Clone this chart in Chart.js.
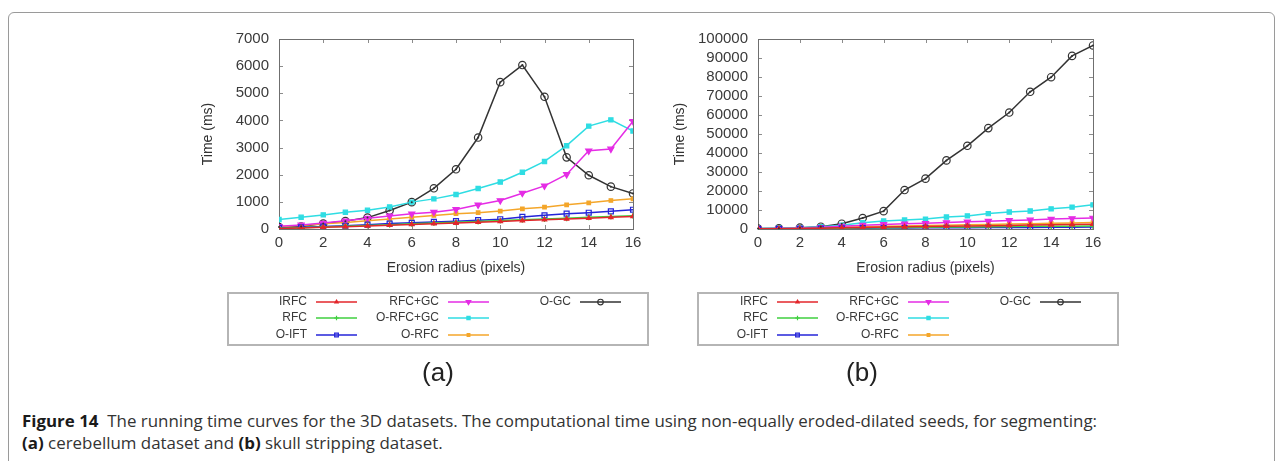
<!DOCTYPE html>
<html lang="en">
<head>
    <meta charset="UTF-8">
    <title>Running time curves for the 3D datasets</title>
    <script src="https://cdn.jsdelivr.net/npm/chart.js"></script>
    <style>
        body {
            margin: 0;
            padding: 0;
            background: #ffffff;
            width: 1282px;
            height: 461px;
            overflow: hidden;
            position: relative;
            font-family: "Liberation Sans", Arial, sans-serif;
        }

        /* rounded figure frame, open at the bottom */
        .frame {
            position: absolute;
            left: 8px;
            top: 12px;
            width: 1265px;
            height: 480px;
            border: 1px solid #9a9a9a;
            border-radius: 6px;
        }

        .panel {
            position: absolute;
            top: 20px;
            height: 340px;
        }

        #panelA { left: 190px; width: 470px; }
        #panelB { left: 660px; width: 480px; }

        .sub {
            position: absolute;
            top: 357px;
            width: 60px;
            margin-left: -30px;
            text-align: center;
            font-size: 26px;
            color: #222;
        }

        .caption {
            position: absolute;
            left: 22px;
            top: 410px;
            font-family: "Open Sans", "Noto Sans", sans-serif;
            font-size: 16px;
            line-height: 22px;
            color: #333;
            white-space: nowrap;
            transform-origin: 0 0;
        }

        .caption b { color: #1a1a1a; }
    </style>
</head>
<body>

    <div class="frame"></div>

    <div class="panel" id="panelA"><canvas id="chartA" width="470" height="340"></canvas></div>
    <div class="panel" id="panelB"><canvas id="chartB" width="480" height="340"></canvas></div>

    <div class="sub" style="left: 438px;">(a)</div>
    <div class="sub" style="left: 862px;">(b)</div>

    <div class="caption" id="caption">
        <span id="capLine"><b>Figure 14</b>&nbsp; The running time curves for the 3D datasets. The computational time using non-equally eroded-dilated seeds, for segmenting:</span><br>
        <b>(a)</b> cerebellum dataset and <b>(b)</b> skull stripping dataset.
    </div>

    <script>
        // erosion radius (pixels)
        const radius = [0, 1, 2, 3, 4, 5, 6, 7, 8, 9, 10, 11, 12, 13, 14, 15, 16];

        const methods = ['IRFC', 'RFC', 'O-IFT', 'RFC+GC', 'O-RFC+GC', 'O-RFC', 'O-GC'];

        // (a) cerebellum dataset, time in ms
        const cerIRFC   = [20, 40, 60, 85, 110, 140, 165, 195, 220, 250, 280, 310, 340, 370, 400, 430, 460];
        const cerRFC    = [30, 50, 70, 100, 130, 160, 190, 220, 250, 280, 310, 340, 370, 400, 430, 460, 490];
        const cerOIFT   = [40, 60, 90, 120, 160, 200, 230, 260, 290, 325, 360, 445, 505, 565, 600, 650, 710];
        const cerRFCGC  = [100, 150, 220, 300, 400, 480, 560, 620, 720, 890, 1050, 1320, 1590, 2010, 2880, 2950, 3970];
        const cerORFCGC = [350, 430, 520, 615, 690, 810, 990, 1110, 1270, 1490, 1730, 2090, 2490, 3070, 3790, 4020, 3610];
        const cerORFC   = [80, 130, 190, 240, 300, 370, 430, 500, 565, 600, 660, 745, 805, 890, 965, 1050, 1110];
        const cerOGC    = [70, 90, 200, 290, 420, 680, 990, 1500, 2200, 3370, 5410, 6040, 4870, 2640, 1980, 1560, 1310];

        // (b) skull stripping dataset, time in ms
        const skIRFC   = [80, 150, 250, 400, 600, 800, 1000, 1150, 1300, 1450, 1600, 1750, 1900, 2050, 2200, 2350, 2500];
        const skRFC    = [60, 120, 200, 300, 450, 600, 700, 800, 900, 1000, 1100, 1200, 1300, 1400, 1450, 1500, 1550];
        const skOIFT   = [50, 100, 150, 250, 350, 450, 500, 550, 600, 650, 700, 750, 800, 850, 900, 950, 1000];
        const skRFCGC  = [150, 300, 500, 900, 1500, 2000, 2400, 2700, 3000, 3400, 3800, 4100, 4500, 4800, 5200, 5500, 5800];
        const skORFCGC = [200, 400, 700, 1200, 2000, 3300, 4200, 4700, 5200, 6300, 6900, 8100, 8900, 9500, 10600, 11500, 12700];
        const skORFC   = [100, 200, 350, 600, 900, 1200, 1400, 1600, 1800, 2000, 2200, 2400, 2600, 2800, 3000, 3200, 3400];
        const skOGC    = [300, 400, 700, 1200, 2800, 5800, 9400, 20500, 26500, 36100, 43800, 53100, 61300, 72200, 79900, 91100, 96600];

        // line colour and marker for each method (gnuplot look)
        const styles = [
            { color: '#e3262b', point: 'triangle', radius: 2.5, fill: true },
            { color: '#3fcf3f', point: 'cross', radius: 3, fill: false },
            { color: '#2424d8', point: 'rect', radius: 3.5, fill: false },
            { color: '#e52ce5', point: 'triangle', radius: 3.5, fill: true, rotation: 180 },
            { color: '#2fdde3', point: 'rect', radius: 3, fill: true },
            { color: '#f4a62a', point: 'rect', radius: 2.5, fill: true },
            { color: '#333333', point: 'circle', radius: 3.7, fill: false }
        ];

        const tickFont = { family: "'Liberation Sans', Arial, sans-serif", size: 15 };
        const titleFont = { family: "'Liberation Sans', Arial, sans-serif", size: 14 };

        // box round the plot with small inward ticks on all four sides
        const frameTicks = {
            id: 'frameTicks',
            beforeDatasetsDraw(chart) {
                const { ctx, chartArea: a, scales } = chart;
                ctx.save();
                ctx.strokeStyle = '#8c8c8c';
                ctx.lineWidth = 1;
                ctx.beginPath();
                scales.x.ticks.forEach(t => {
                    const px = Math.round(scales.x.getPixelForValue(t.value)) + 0.5;
                    ctx.moveTo(px, a.bottom); ctx.lineTo(px, a.bottom - 4);
                    ctx.moveTo(px, a.top); ctx.lineTo(px, a.top + 4);
                });
                scales.y.ticks.forEach(t => {
                    const py = Math.round(scales.y.getPixelForValue(t.value)) + 0.5;
                    ctx.moveTo(a.left, py); ctx.lineTo(a.left + 4, py);
                    ctx.moveTo(a.right, py); ctx.lineTo(a.right - 4, py);
                });
                ctx.stroke();
                ctx.strokeStyle = '#6f6f6f';
                ctx.strokeRect(Math.round(a.left) + 0.5, Math.round(a.top) + 0.5,
                               Math.round(a.right - a.left), Math.round(a.bottom - a.top));
                ctx.restore();
            },
            afterDatasetsDraw(chart) {
                // a small dot in the centre of every open O-GC circle
                const { ctx } = chart;
                const last = chart.data.datasets.length - 1;
                const meta = chart.getDatasetMeta(last);
                ctx.save();
                ctx.fillStyle = chart.data.datasets[last].borderColor;
                meta.data.forEach(p => {
                    ctx.beginPath();
                    ctx.arc(p.x, p.y, 1, 0, Math.PI * 2);
                    ctx.fill();
                });
                ctx.restore();
            }
        };

        // gnuplot style key below the plot, three columns in a grey box
        const keyBox = {
            id: 'keyBox',
            afterDraw(chart, args, opts) {
                const { ctx } = chart;
                ctx.save();
                ctx.strokeStyle = '#b5b5b5';
                ctx.lineWidth = 2;
                ctx.strokeRect(opts.left, opts.top, opts.width, opts.height);
                ctx.font = "12px 'Liberation Sans', Arial, sans-serif";
                ctx.textAlign = 'right';
                ctx.textBaseline = 'middle';
                chart.data.datasets.forEach((ds, i) => {
                    const col = Math.floor(i / 3), row = i % 3;
                    const tx = opts.left + opts.cols[col];
                    const ty = opts.top + opts.rows[row];
                    ctx.fillStyle = '#3a3a3a';
                    ctx.fillText(ds.label, tx, ty);
                    ctx.strokeStyle = ds.borderColor;
                    ctx.lineWidth = 1.5;
                    ctx.beginPath();
                    ctx.moveTo(tx + 9, ty); ctx.lineTo(tx + 50, ty);
                    ctx.stroke();
                    ctx.fillStyle = ds.pointBackgroundColor;
                    ctx.strokeStyle = ds.borderColor;
                    ctx.lineWidth = 1.2;
                    Chart.helpers.drawPoint(ctx, {
                        pointStyle: ds.pointStyle,
                        rotation: ds.pointRotation || 0,
                        radius: ds.pointRadius * 0.75,
                        borderWidth: 1.2
                    }, tx + 29.5, ty);
                });
                ctx.restore();
            }
        };

        function buildDatasets(series) {
            return series.map((vals, i) => {
                const s = styles[i];
                return {
                    label: methods[i],
                    data: radius.map((r, k) => ({ x: r, y: vals[k] })),
                    borderColor: s.color,
                    backgroundColor: s.color,
                    pointBackgroundColor: s.fill ? s.color : 'rgba(255,255,255,0)',
                    pointBorderColor: s.color,
                    pointStyle: s.point,
                    pointRotation: s.rotation || 0,
                    pointRadius: s.radius,
                    pointBorderWidth: 1.2,
                    borderWidth: 1.5,
                    tension: 0
                };
            });
        }

        function makeChart(id, series, yMax, yStep, yWidth, padRight, yTitlePad, key) {
            new Chart(document.getElementById(id), {
                type: 'line',
                data: { datasets: buildDatasets(series) },
                options: {
                    responsive: false,
                    animation: false,
                    layout: { padding: { top: 15, right: padRight, bottom: 71, left: 0 } },
                    plugins: {
                        legend: { display: false },
                        tooltip: { enabled: false },
                        keyBox: key
                    },
                    scales: {
                        x: {
                            type: 'linear',
                            min: 0,
                            max: 16,
                            grid: { display: false, drawTicks: false },
                            border: { display: false },
                            ticks: { stepSize: 2, color: '#3a3a3a', font: tickFont, padding: 5 },
                            title: {
                                display: true, text: 'Erosion radius (pixels)', color: '#333',
                                font: titleFont, padding: { top: 12, bottom: 12 }
                            },
                            afterFit(scale) { scale.height = 60; }
                        },
                        y: {
                            min: 0,
                            max: yMax,
                            grid: { display: false, drawTicks: false },
                            border: { display: false },
                            ticks: {
                                stepSize: yStep, autoSkip: false, color: '#3a3a3a', font: tickFont, padding: 10,
                                callback: v => String(v)
                            },
                            title: {
                                display: true, text: 'Time (ms)', color: '#333',
                                font: titleFont, padding: { top: yTitlePad, bottom: yTitlePad }
                            },
                            afterFit(scale) { scale.width = yWidth; }
                        }
                    }
                },
                plugins: [frameTicks, keyBox]
            });
        }

        makeChart('chartA',
            [cerIRFC, cerRFC, cerOIFT, cerRFCGC, cerORFCGC, cerORFC, cerOGC],
            7000, 1000, 89, 27, 10,
            { left: 38, top: 273, width: 420, height: 52, cols: [79, 211, 343], rows: [9, 25, 42] });

        makeChart('chartB',
            [skIRFC, skRFC, skOIFT, skRFCGC, skORFCGC, skORFC, skOGC],
            100000, 10000, 98, 47, 12,
            { left: 38, top: 273, width: 420, height: 52, cols: [70, 201, 333], rows: [9, 25, 42] });

        // the caption is set in a condensed face in the original: squeeze it to the same line length
        const capW = document.getElementById('capLine').getBoundingClientRect().width;
        document.getElementById('caption').style.transform = 'scaleX(' + (1075 / capW) + ')';
    </script>
</body>
</html>
